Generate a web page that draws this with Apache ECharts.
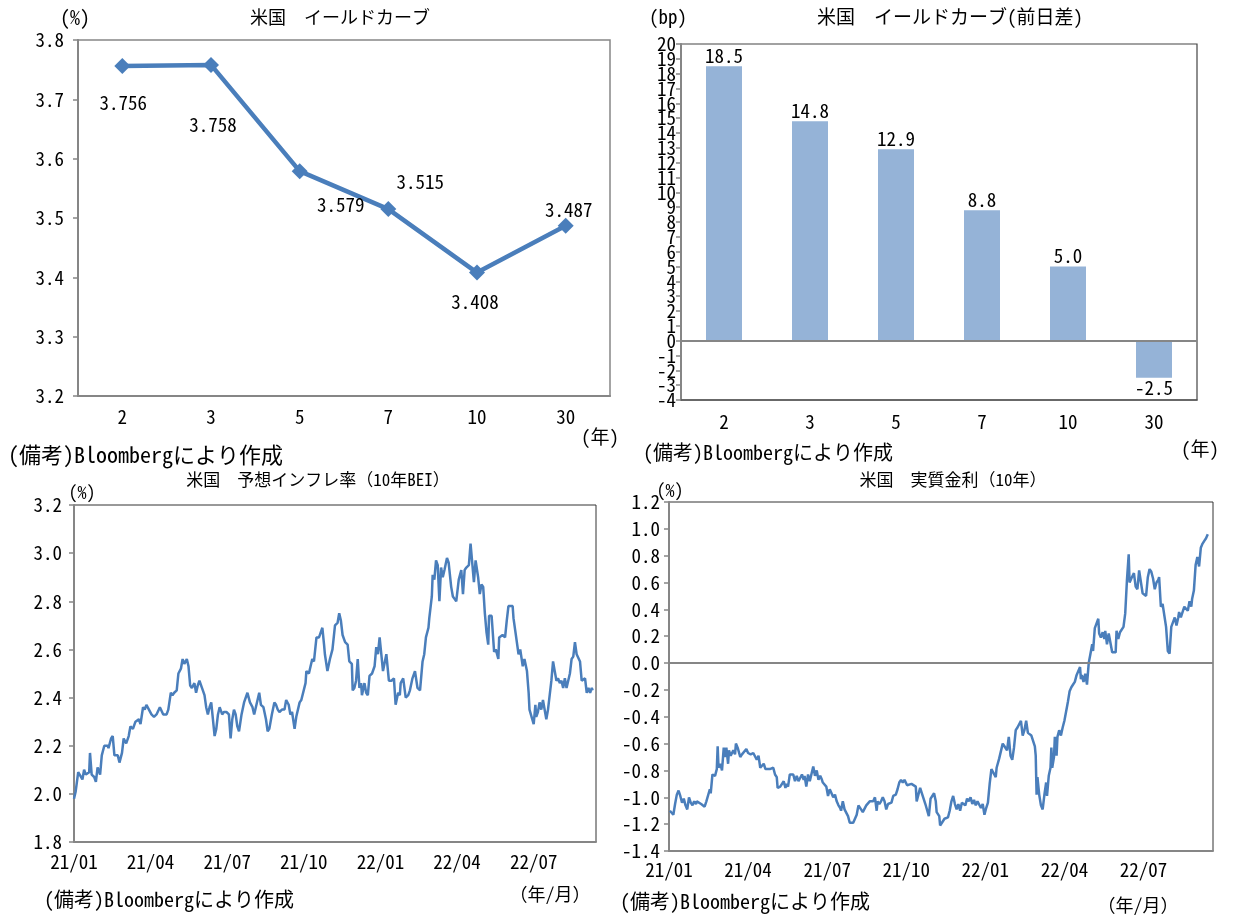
<!DOCTYPE html>
<html>
<head>
<meta charset="utf-8">
<script src="https://cdn.jsdelivr.net/npm/echarts@6/dist/echarts.min.js"></script>
<style>
  html, body { margin: 0; padding: 0; background: #fff; }
  #chart { width: 1241px; height: 919px; }
</style>
</head>
<body>
<div id="chart"></div>
<script>
(function() {
  var FONT = "'Noto Sans Mono CJK JP', 'Noto Sans CJK JP', monospace";
  var blue = '#4A7EBB';
  var barBlue = '#95B3D7';
  var axisGray = '#868686';

  // --- data ---
  var curveTenors = ['2', '3', '5', '7', '10', '30'];
  var curveYield = [3.756, 3.758, 3.579, 3.515, 3.408, 3.487];
  var curveChange = [18.5, 14.8, 12.9, 8.8, 5.0, -2.5];

  // days since 2021-01-01
  var beiDay = [0, 2, 5, 7, 10, 12, 14, 18, 19, 21, 24, 26, 28, 31, 33, 36, 40, 41, 44, 46, 48, 52, 54, 57, 59, 62, 65, 67, 70, 73,
    77, 79, 82, 84, 86, 89, 92, 95, 98, 102, 106, 110, 112, 115, 117, 119, 122, 124, 127, 129, 131, 134, 136, 138, 140, 143, 145, 147, 149, 152,
    155, 157, 159, 161, 163, 165, 167, 169, 171, 173, 176, 178, 181, 184, 186, 188, 190, 192, 194, 196, 199, 202, 204, 206, 209, 212, 214, 216, 218, 220,
    222, 225, 228, 230, 232, 235, 238, 240, 242, 244, 247, 250, 252, 255, 257, 259, 262, 264, 268, 270, 275, 276, 279, 283, 285, 288, 291, 295, 297, 298,
    301, 304, 307, 310, 313, 315, 317, 319, 322, 325, 327, 330, 331, 333, 335, 337, 339, 341, 342, 345, 347, 349, 351, 354, 357, 359, 361, 363, 365, 367,
    369, 371, 374, 377, 380, 382, 385, 387, 388, 391, 394, 397, 399, 402, 405, 408, 411, 414, 416, 418, 421, 422, 425, 426, 428, 430, 432, 434, 436, 438,
    440, 443, 445, 448, 450, 452, 454, 457, 460, 462, 464, 466, 469, 471, 473, 475, 477, 480, 482, 484, 486, 488, 490, 492, 493, 496, 498, 499, 501, 504,
    505, 509, 512, 514, 516, 518, 521, 522, 524, 526, 528, 530, 533, 535, 538, 540, 541, 543, 546, 548, 549, 551, 553, 555, 557, 559, 561, 563, 565, 567,
    569, 571, 573, 575, 577, 579, 581, 583, 585, 587, 589, 591, 593, 595, 597, 599, 601, 603, 605, 607, 609, 611, 613, 615, 616];
  var beiValue = [1.98, 2.01, 2.09, 2.09, 2.06, 2.10, 2.08, 2.09, 2.17, 2.08, 2.07, 2.05, 2.11, 2.08, 2.16, 2.20, 2.20, 2.19, 2.23, 2.24, 2.16, 2.16, 2.13, 2.17, 2.23, 2.21, 2.24, 2.28, 2.27, 2.30,
    2.31, 2.29, 2.36, 2.35, 2.37, 2.35, 2.33, 2.32, 2.33, 2.36, 2.33, 2.33, 2.35, 2.42, 2.41, 2.42, 2.43, 2.50, 2.52, 2.56, 2.54, 2.56, 2.53, 2.45, 2.44, 2.46, 2.42, 2.45, 2.47, 2.44,
    2.41, 2.36, 2.33, 2.36, 2.38, 2.31, 2.24, 2.27, 2.33, 2.36, 2.33, 2.34, 2.34, 2.33, 2.23, 2.31, 2.35, 2.33, 2.28, 2.26, 2.33, 2.38, 2.38, 2.42, 2.38, 2.36, 2.33, 2.36, 2.39, 2.42,
    2.37, 2.36, 2.31, 2.26, 2.27, 2.33, 2.38, 2.37, 2.35, 2.34, 2.35, 2.35, 2.39, 2.37, 2.33, 2.34, 2.27, 2.32, 2.38, 2.39, 2.46, 2.51, 2.50, 2.56, 2.55, 2.65, 2.65, 2.69, 2.62, 2.58,
    2.51, 2.56, 2.60, 2.70, 2.71, 2.75, 2.72, 2.66, 2.63, 2.62, 2.55, 2.54, 2.43, 2.44, 2.47, 2.56, 2.44, 2.46, 2.41, 2.46, 2.42, 2.41, 2.49, 2.50, 2.53, 2.61, 2.58, 2.65, 2.58, 2.51,
    2.51, 2.58, 2.47, 2.47, 2.48, 2.37, 2.42, 2.41, 2.46, 2.48, 2.40, 2.41, 2.43, 2.48, 2.51, 2.44, 2.43, 2.55, 2.58, 2.65, 2.69, 2.73, 2.82, 2.91, 2.89, 2.97, 2.95, 2.80, 2.94, 2.90,
    2.93, 2.98, 2.96, 2.86, 2.82, 2.81, 2.80, 2.89, 2.93, 2.83, 2.93, 2.94, 2.95, 3.04, 2.96, 2.88, 2.97, 2.90, 2.83, 2.87, 2.86, 2.75, 2.67, 2.62, 2.74, 2.74, 2.74, 2.59, 2.60, 2.56,
    2.65, 2.66, 2.65, 2.72, 2.78, 2.78, 2.78, 2.73, 2.68, 2.68, 2.58, 2.60, 2.53, 2.56, 2.51, 2.42, 2.35, 2.35, 2.29, 2.37, 2.32, 2.34, 2.38, 2.35, 2.39, 2.39, 2.31, 2.35, 2.35, 2.47,
    2.55, 2.51, 2.47, 2.48, 2.46, 2.47, 2.44, 2.48, 2.44, 2.44, 2.50, 2.56, 2.57, 2.63, 2.58, 2.58, 2.55, 2.47, 2.47, 2.48, 2.42, 2.44, 2.42, 2.44, 2.43];

  var realDay = [1, 3, 5, 7, 9, 11, 13, 15, 17, 19, 21, 23, 25, 27, 29, 31, 32, 34, 37, 39, 41, 43, 45, 47, 48, 50, 52, 53, 55, 56,
    57, 59, 61, 63, 64, 66, 68, 69, 71, 74, 76, 77, 79, 82, 84, 86, 89, 91, 94, 97, 99, 101, 103, 105, 107, 109, 111, 113, 116, 118,
    120, 122, 124, 125, 128, 130, 132, 134, 135, 137, 139, 141, 143, 145, 147, 149, 151, 153, 155, 156, 158, 160, 162, 164, 166, 168, 170, 172, 174, 176,
    177, 179, 181, 183, 185, 187, 189, 191, 193, 195, 197, 198, 200, 202, 204, 206, 208, 210, 212, 214, 216, 218, 219, 221, 223, 225, 227, 229, 231, 233,
    235, 237, 239, 240, 242, 244, 246, 248, 250, 252, 254, 256, 258, 260, 261, 263, 265, 267, 269, 271, 274, 276, 279, 281, 284, 285, 287, 289, 291, 293,
    295, 297, 299, 301, 303, 305, 307, 308, 311, 312, 315, 317, 319, 321, 323, 325, 327, 329, 331, 333, 335, 337, 339, 341, 343, 345, 347, 349, 351, 353,
    355, 357, 359, 361, 363, 365, 367, 369, 371, 373, 376, 377, 380, 381, 384, 386, 388, 389, 391, 393, 395, 397, 399, 401, 403, 405, 407, 409, 411, 413,
    415, 417, 419, 421, 422, 423, 424, 426, 428, 430, 432, 434, 435, 437, 439, 440, 441, 443, 444, 446, 447, 449, 451, 453, 454, 455, 457, 459, 461, 463,
    465, 467, 469, 471, 473, 474, 475, 477, 479, 481, 483, 485, 487, 488, 490, 492, 494, 495, 497, 499, 501, 502, 504, 506, 508, 510, 512, 514, 515, 517,
    519, 521, 523, 525, 527, 529, 530, 532, 534, 535, 537, 539, 541, 543, 545, 547, 549, 551, 553, 555, 557, 559, 561, 563, 564, 566, 568, 570, 572, 574,
    576, 578, 580, 582, 584, 586, 587, 589, 591, 593, 595, 597, 599, 601, 602, 604, 606, 608, 610, 612, 614, 616, 618, 620];
  var realValue = [-1.10, -1.11, -1.13, -1.05, -0.98, -0.95, -0.99, -1.04, -1.01, -1.06, -1.09, -1.00, -1.04, -1.06, -1.03, -1.05, -1.03, -1.04, -1.05, -1.04, -1.07, -1.03, -1.02, -0.94, -0.97, -0.83, -0.82, -0.84, -0.79, -0.62,
    -0.78, -0.75, -0.80, -0.63, -0.70, -0.63, -0.75, -0.65, -0.69, -0.65, -0.68, -0.60, -0.63, -0.70, -0.68, -0.67, -0.64, -0.67, -0.68, -0.67, -0.68, -0.72, -0.69, -0.78, -0.77, -0.75, -0.79, -0.78, -0.79, -0.80,
    -0.78, -0.83, -0.85, -0.93, -0.92, -0.92, -0.88, -0.93, -0.90, -0.92, -0.83, -0.84, -0.83, -0.88, -0.84, -0.88, -0.87, -0.83, -0.87, -0.84, -0.92, -0.83, -0.88, -0.87, -0.77, -0.84, -0.80, -0.87, -0.84, -0.87,
    -0.89, -0.88, -0.92, -0.99, -0.94, -0.97, -1.00, -0.98, -1.03, -1.06, -1.08, -1.10, -1.03, -1.09, -1.10, -1.14, -1.19, -1.18, -1.19, -1.20, -1.13, -1.06, -1.05, -1.09, -1.11, -1.10, -1.06, -1.05, -1.03, -1.04,
    -1.03, -1.00, -1.10, -1.03, -1.05, -1.03, -1.00, -1.03, -1.09, -1.05, -1.05, -1.04, -0.99, -0.99, -0.98, -0.94, -0.89, -0.87, -0.89, -0.87, -0.91, -0.92, -0.90, -0.90, -0.92, -1.03, -0.98, -0.93, -0.97, -0.98,
    -1.05, -1.04, -1.14, -1.01, -0.99, -0.97, -1.03, -1.11, -1.14, -1.21, -1.18, -1.16, -1.15, -1.15, -1.10, -1.03, -0.99, -1.05, -1.09, -1.05, -1.10, -1.04, -1.03, -1.06, -1.01, -1.03, -1.00, -1.05, -1.02, -1.06,
    -1.03, -1.04, -1.08, -1.05, -1.13, -1.08, -1.04, -0.90, -0.79, -0.78, -0.85, -0.78, -0.71, -0.71, -0.60, -0.62, -0.63, -0.65, -0.55, -0.69, -0.72, -0.63, -0.50, -0.48, -0.49, -0.43, -0.54, -0.50, -0.43, -0.52,
    -0.52, -0.54, -0.53, -0.62, -0.69, -0.98, -0.85, -0.98, -1.06, -1.09, -0.98, -0.89, -0.99, -0.84, -0.78, -0.63, -0.78, -0.70, -0.55, -0.69, -0.55, -0.50, -0.54, -0.48, -0.49, -0.43, -0.42, -0.29, -0.21, -0.18,
    -0.16, -0.14, -0.09, -0.08, -0.03, -0.12, -0.09, -0.14, -0.08, -0.16, 0.00, 0.07, 0.14, 0.09, 0.26, 0.27, 0.33, 0.22, 0.19, 0.23, 0.18, 0.24, 0.14, 0.22, 0.21, 0.08, 0.07, 0.08, 0.24, 0.18,
    0.23, 0.23, 0.27, 0.37, 0.62, 0.81, 0.60, 0.63, 0.62, 0.67, 0.57, 0.55, 0.69, 0.68, 0.52, 0.52, 0.50, 0.64, 0.70, 0.68, 0.63, 0.55, 0.60, 0.62, 0.64, 0.42, 0.44, 0.43, 0.27, 0.09,
    0.07, 0.27, 0.28, 0.34, 0.28, 0.34, 0.38, 0.34, 0.35, 0.42, 0.43, 0.39, 0.46, 0.42, 0.48, 0.54, 0.73, 0.79, 0.72, 0.86, 0.89, 0.91, 0.93, 0.96];

  // label placement for the yield curve values (px from marker centre)
  var curveLabelOffset = [[1, 37], [2, 60], [41, 34], [32, -27], [-2, 29], [3, -16]];

  function monthLabel(v) {
    var m = Math.round(v / 30.4375);
    if (Math.abs(v - m * 30.4375) > 6) return '';
    var yy = 21 + Math.floor(m / 12);
    var mm = m % 12 + 1;
    return yy + '/' + (mm < 10 ? '0' : '') + mm;
  }
  function fixed1(v) { return (Math.abs(v) < 1e-9 ? 0 : v).toFixed(1); }

  function yAxisCommon(extra) {
    var base = {
      type: 'value',
      splitLine: { show: false },
      axisLine: { show: true, lineStyle: { color: axisGray, width: 2 } },
      axisTick: { show: true, length: 5, lineStyle: { color: axisGray, width: 1.5 } },
      axisLabel: { color: '#000', fontSize: 19, fontFamily: FONT, formatter: fixed1 }
    };
    for (var k in extra) base[k] = extra[k];
    return base;
  }

  function txt(x, y, text, align, size) {
    return {
      type: 'text', x: x, y: y,
      style: { text: text, fill: '#000', font: (size || 18) + 'px ' + FONT, textAlign: align || 'left', textVerticalAlign: 'middle' }
    };
  }

  var chart = echarts.init(document.getElementById('chart'), null, { renderer: 'canvas' });
  chart.setOption({
    animation: false,
    backgroundColor: '#fff',
    textStyle: { fontFamily: FONT },
    grid: [
      { left: 78, top: 40, width: 532, height: 356, show: true, borderColor: axisGray, borderWidth: 1.5 },
      { left: 681, top: 44, width: 516, height: 356, show: true, borderColor: '#444', borderWidth: 1.2 },
      { left: 74, top: 505, width: 522, height: 337, show: true, borderColor: '#333', borderWidth: 1 },
      { left: 669, top: 502, width: 544, height: 349, show: true, borderColor: '#333', borderWidth: 1 }
    ],
    xAxis: [
      {
        gridIndex: 0, type: 'category', data: curveTenors,
        axisLine: { lineStyle: { color: axisGray, width: 2 } },
        axisTick: { show: false },
        axisLabel: { color: '#000', fontSize: 19, margin: 11 }
      },
      {
        gridIndex: 1, type: 'category', data: curveTenors,
        axisLine: { onZero: false, lineStyle: { color: '#555', width: 1.5 } },
        axisTick: { show: false },
        axisLabel: { color: '#000', fontSize: 19, margin: 12 }
      },
      {
        gridIndex: 2, type: 'value', min: 0, max: 620, interval: 91,
        splitLine: { show: false },
        axisLine: { lineStyle: { color: axisGray, width: 2 } },
        axisTick: { show: false },
        axisLabel: { color: '#000', fontSize: 19, margin: 10, formatter: monthLabel }
      },
      {
        gridIndex: 3, type: 'value', min: 0, max: 626, interval: 91,
        splitLine: { show: false },
        axisLine: { onZero: false, lineStyle: { color: axisGray, width: 2 } },
        axisTick: { show: false },
        axisLabel: { color: '#000', fontSize: 19, margin: 9, formatter: monthLabel }
      }
    ],
    yAxis: [
      yAxisCommon({ gridIndex: 0, min: 3.2, max: 3.8, interval: 0.1, axisLabel: { color: '#000', fontSize: 19, margin: 14, formatter: fixed1 } }),
      // bp axis: even labels here, odd labels on the overlay axis below, so all of them are drawn
      yAxisCommon({ gridIndex: 1, min: -4, max: 20, interval: 1, axisLabel: { color: '#000', fontSize: 19, margin: 5,
        formatter: function(v) { return v % 2 === 0 ? String(v) : ''; } } }),
      yAxisCommon({ gridIndex: 2, min: 1.8, max: 3.2, interval: 0.2, axisLabel: { color: '#000', fontSize: 19, margin: 12, formatter: fixed1 } }),
      yAxisCommon({ gridIndex: 3, min: -1.4, max: 1.2, interval: 0.2, axisLabel: { color: '#000', fontSize: 19, margin: 9, formatter: fixed1 } }),
      {
        gridIndex: 1, type: 'value', min: -4, max: 20, interval: 1, position: 'left',
        splitLine: { show: false }, axisLine: { show: false }, axisTick: { show: false },
        axisLabel: { color: '#000', fontSize: 19, margin: 5,
          formatter: function(v) { return Math.abs(v % 2) === 1 ? String(v) : ''; } }
      }
    ],
    series: [
      {
        type: 'line', xAxisIndex: 0, yAxisIndex: 0,
        data: curveYield.map(function(v, i) {
          return { value: v, label: { offset: curveLabelOffset[i] } };
        }),
        symbol: 'diamond', symbolSize: 16,
        lineStyle: { color: blue, width: 4.5 },
        itemStyle: { color: blue },
        label: {
          show: true, position: 'inside', color: '#000', fontSize: 19,
          formatter: function(p) { return p.value.toFixed(3); }
        }
      },
      {
        type: 'bar', xAxisIndex: 1, yAxisIndex: 1,
        data: curveChange.map(function(v) {
          return { value: v, label: { position: v < 0 ? 'bottom' : 'top' } };
        }),
        barWidth: 36,
        itemStyle: { color: barBlue },
        label: {
          show: true, color: '#000', fontSize: 19, distance: 1,
          formatter: function(p) { return p.value.toFixed(1); }
        },
        markLine: {
          silent: true, symbol: 'none', label: { show: false },
          lineStyle: { color: axisGray, width: 2, type: 'solid' },
          data: [{ yAxis: 0 }]
        }
      },
      {
        type: 'line', xAxisIndex: 2, yAxisIndex: 2,
        data: beiDay.map(function(d, i) { return [d, beiValue[i]]; }),
        showSymbol: false,
        lineStyle: { color: blue, width: 2.5 }
      },
      {
        type: 'line', xAxisIndex: 3, yAxisIndex: 3,
        data: realDay.map(function(d, i) { return [d, realValue[i]]; }),
        showSymbol: false,
        lineStyle: { color: blue, width: 2.5 },
        markLine: {
          silent: true, symbol: 'none', label: { show: false },
          lineStyle: { color: axisGray, width: 2, type: 'solid' },
          data: [{ yAxis: 0 }]
        }
      }
    ],
    graphic: [
      txt(340, 17, '米国　イールドカーブ', 'center', 18),
      txt(75, 17, '(%)', 'center', 20),
      txt(600, 437, '(年)', 'center', 19),
      txt(8, 455, '(備考)Bloombergにより作成', 'left', 22),
      txt(950, 17, '米国　イールドカーブ(前日差)', 'center', 19),
      txt(668, 17, '(bp)', 'center', 19),
      txt(1200, 449, '(年)', 'center', 19),
      txt(643, 452, '(備考)Bloombergにより作成', 'left', 20),
      txt(318, 480, '米国　予想インフレ率（10年BEI）', 'center', 17),
      txt(82, 492, '(%)', 'center', 18),
      txt(550, 894, '（年/月）', 'center', 18),
      txt(44, 899, '(備考)Bloombergにより作成', 'left', 20),
      txt(953, 480, '米国　実質金利（10年）', 'center', 17),
      txt(670, 490, '(%)', 'center', 18),
      txt(1138, 905, '（年/月）', 'center', 18),
      txt(620, 901, '(備考)Bloombergにより作成', 'left', 20)
    ]
  });
  window.addEventListener('resize', function() { chart.resize(); });
})();
</script>
</body>
</html>
